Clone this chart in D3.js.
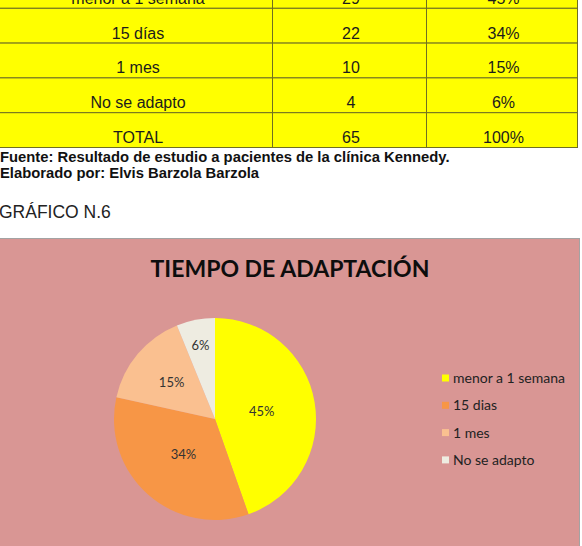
<!DOCTYPE html>
<html>
<head>
<meta charset="utf-8">
<script src="https://cdn.jsdelivr.net/npm/d3@7"></script>
<style>
    body { margin: 0; background: #fff; }
    svg { display: block; }
    .cell { fill: #ffff00; stroke: #6f6f22; stroke-width: 1; }
    .cellText { font-family: "Liberation Sans", Arial, sans-serif; font-size: 16px; fill: #1c1c1c; text-anchor: middle; }
    .note { font-family: "Liberation Sans", Arial, sans-serif; font-weight: bold; font-size: 14.8px; fill: #111; }
    .caption { font-family: "Liberation Sans", Arial, sans-serif; font-size: 17.5px; fill: #222; }
    .chartTitle { font-family: Lato, "Open Sans", sans-serif; font-weight: bold; fill: #0d0d0d; text-anchor: middle; }
    .sliceLabel { font-family: Lato, "Open Sans", sans-serif; font-size: 13px; fill: #333; text-anchor: middle; }
    .legendText { font-family: Lato, "Open Sans", sans-serif; font-size: 14px; fill: #222; }
</style>
</head>
<body>
<div class="graph"></div>
<script>

    // table / chart data
    const categories = ["menor a 1 semana", "15 días", "1 mes", "No se adapto"];
    const legendLabels = ["menor a 1 semana", "15 dias", "1 mes", "No se adapto"];
    const counts = [29, 22, 10, 4];
    const percents = ["45%", "34%", "15%", "6%"];
    const totalRow = ["TOTAL", "65", "100%"];
    const sliceColors = ["#ffff00", "#f79646", "#fac090", "#eeece1"];
    const notes = [
        "Fuente: Resultado de estudio a pacientes de la clínica Kennedy.",
        "Elaborado por: Elvis Barzola Barzola"
    ];
    const captionText = "GRÁFICO N.6";
    const chartTitle = "TIEMPO DE ADAPTACIÓN";

    (function () {
        const width = 582;
        const height = 546;

        const svg = d3.select(".graph").append("svg")
            .attr("width", width)
            .attr("height", height);

        // ---- table (top, partially scrolled off) ----
        const rows = categories.map(function (c, i) {
            return [c, String(counts[i]), percents[i]];
        });
        rows.push(totalRow);

        const y = d3.scaleBand()
            .domain(d3.range(rows.length))
            .range([-27, 147]);

        const colEdges = [-2, 272, 426, 577];
        const gTable = svg.append("g");

        const rowG = gTable.selectAll("g.row")
            .data(rows)
            .enter()
            .append("g")
            .attr("class", "row")
            .attr("transform", function (d, i) {
                return "translate(0," + y(i) + ")";
            });

        rowG.selectAll("rect.cell")
            .data(function (d) { return d; })
            .enter()
            .append("rect")
            .attr("class", "cell")
            .attr("x", function (d, j) { return colEdges[j] + 0.5; })
            .attr("y", 0.5)
            .attr("width", function (d, j) { return colEdges[j + 1] - colEdges[j]; })
            .attr("height", y.bandwidth());

        rowG.selectAll("text.cellText")
            .data(function (d) { return d; })
            .enter()
            .append("text")
            .attr("class", "cellText")
            .attr("x", function (d, j) { return (Math.max(colEdges[j], 0) + colEdges[j + 1]) / 2 + 2; })
            .attr("y", y.bandwidth() - 4)
            .text(function (d) { return d; });

        // ---- notes + caption ----
        svg.selectAll("text.note")
            .data(notes)
            .enter()
            .append("text")
            .attr("class", "note")
            .attr("x", 0)
            .attr("y", function (d, i) { return 162 + i * 16; })
            .text(function (d) { return d; });

        svg.append("text")
            .attr("class", "caption")
            .attr("x", -1)
            .attr("y", 218)
            .text(captionText);

        // ---- chart area ----
        svg.append("rect")
            .attr("x", -1)
            .attr("y", 238.5)
            .attr("width", 580.5)
            .attr("height", 330)
            .style("fill", "#d99694")
            .style("stroke", "#a3a3a3");

        const title = svg.append("text")
            .attr("class", "chartTitle")
            .attr("x", 290)
            .attr("y", 277)
            .style("font-size", "22px")
            .text(chartTitle);
        const tw = title.node().getComputedTextLength();
        title.style("font-size", (22 * 279 / tw) + "px");

        // ---- pie ----
        const cx = 215, cy = 419, r = 101;
        const total = d3.sum(counts);

        const pie = d3.pie().sort(null).value(function (d) { return d; });
        const arc = d3.arc().innerRadius(0).outerRadius(r);
        const color = d3.scaleOrdinal().domain(d3.range(counts.length)).range(sliceColors);

        const gPie = svg.append("g")
            .attr("transform", "translate(" + cx + "," + cy + ")");

        const arcs = pie(counts);

        gPie.selectAll("path.slice")
            .data(arcs)
            .enter()
            .append("path")
            .attr("class", "slice")
            .attr("d", arc)
            .style("fill", function (d, i) { return color(i); });

        // best-fit-ish: small slices get their labels pushed outwards
        gPie.selectAll("text.sliceLabel")
            .data(arcs)
            .enter()
            .append("text")
            .attr("class", "sliceLabel")
            .attr("transform", function (d) {
                const frac = d.value / total;
                const lr = r * (0.47 + 0.4 * (1 - Math.min(1, frac / 0.2)));
                const a = (d.startAngle + d.endAngle) / 2;
                return "translate(" + (Math.sin(a) * lr) + "," + (-Math.cos(a) * lr) + ")";
            })
            .attr("dy", "0.35em")
            .text(function (d, i) { return percents[i]; });

        // ---- legend ----
        const gLegend = svg.append("g")
            .attr("transform", "translate(442,378)");

        const item = gLegend.selectAll("g.item")
            .data(legendLabels)
            .enter()
            .append("g")
            .attr("class", "item")
            .attr("transform", function (d, i) { return "translate(0," + (i * 27.3) + ")"; });

        item.append("rect")
            .attr("x", 0)
            .attr("y", -3.5)
            .attr("width", 7)
            .attr("height", 7)
            .style("fill", function (d, i) { return color(i); });

        item.append("text")
            .attr("class", "legendText")
            .attr("x", 11)
            .attr("dy", "0.35em")
            .text(function (d) { return d; });
    })();
</script>
</body>
</html>
